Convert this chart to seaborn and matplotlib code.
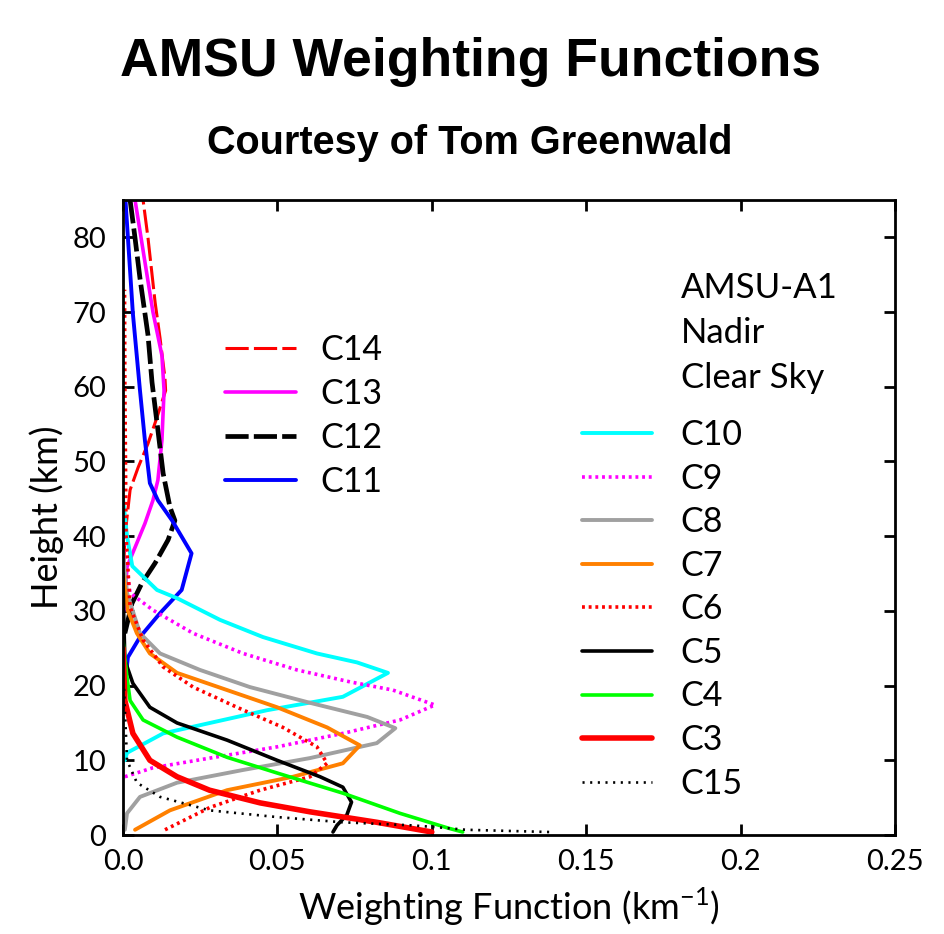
import numpy as np
import pandas as pd
import matplotlib
matplotlib.use("Agg")
import matplotlib.pyplot as plt
import seaborn as sns
from matplotlib.lines import Line2D

# ---------------- data (height km, weighting function km^-1) ----------------
c14_h = [36, 39.9, 42.5, 46.2, 49.2, 52.4, 55.9, 59.5, 61.1, 66.5, 71.3, 79.9, 85]
c14_w = [0.0003, 0.0006, 0.0013, 0.0023, 0.0049, 0.0081, 0.0110, 0.0138, 0.0136, 0.0120, 0.0104, 0.0081, 0.0065]

c13_h = [30, 35.9, 38.5, 41.7, 44.8, 47.5, 52.8, 59.5, 64.2, 70, 76.7, 85]
c13_w = [0.0003, 0.0013, 0.0039, 0.0071, 0.0097, 0.0113, 0.0126, 0.0133, 0.0126, 0.0097, 0.0071, 0.0039]

c12_h = [27, 31, 33.7, 36.4, 39.5, 42.1, 43.9, 48.4, 54.2, 60.6, 66.9, 74.5, 79.9, 85]
c12_w = [0.0006, 0.0029, 0.0061, 0.0104, 0.0146, 0.0168, 0.0152, 0.0130, 0.0113, 0.0094, 0.0081, 0.0055, 0.0039, 0.0023]

c11_h = [20.3, 23.8, 26.5, 29.7, 32.8, 37.7, 42.1, 44.8, 47.1, 52.8, 59.5, 69.8, 79.9, 85]
c11_w = [0.0006, 0.0016, 0.0055, 0.0120, 0.0190, 0.0222, 0.0159, 0.0113, 0.0087, 0.0071, 0.0055, 0.0032, 0.0016, 0.0008]

c10_h = [10, 11, 13.6, 16.7, 18.5, 21.7, 23.1, 24.3, 26.5, 28.8, 31.7, 32.8, 36, 40, 45]
c10_w = [0.0006, 0.0013, 0.0130, 0.0466, 0.0712, 0.0858, 0.0758, 0.0628, 0.0453, 0.0314, 0.0175, 0.0110, 0.0030, 0.0013, 0.0]

c9_h = [7.8, 9.0, 10.3, 11.8, 13.6, 15.4, 17.4, 19.4, 20.5, 22.1, 24.3, 27, 30.1, 32.4, 36, 42]
c9_w = [0.0006, 0.0097, 0.0282, 0.0499, 0.0712, 0.0897, 0.1010, 0.0874, 0.0735, 0.0563, 0.0389, 0.0227, 0.0097, 0.0023, 0.0010, 0.0]

c8_h = [0.7, 2.9, 5.1, 7.0, 8.7, 10.3, 12.3, 14.3, 15.8, 17.7, 19.8, 22.1, 24.3, 27, 32.4, 38]
c8_w = [0.0006, 0.0013, 0.0055, 0.0175, 0.0388, 0.0606, 0.0822, 0.0882, 0.0791, 0.0605, 0.0411, 0.0249, 0.0120, 0.0055, 0.0013, 0.0]

c7_h = [0.7, 3.3, 6.0, 7.8, 9.6, 12, 14.4, 17.1, 19.4, 21.7, 24.3, 27, 30, 35]
c7_w = [0.0039, 0.0152, 0.0337, 0.0551, 0.0712, 0.0767, 0.0661, 0.0499, 0.0337, 0.0175, 0.0087, 0.0045, 0.0016, 0.0]

c6_h = [0.7, 3.7, 6.0, 7.8, 9.6, 11.8, 14.4, 17.1, 19.8, 22.5, 26.1, 30.5, 40, 50, 60, 73]
c6_w = [0.0136, 0.0282, 0.0444, 0.0606, 0.0661, 0.0628, 0.0518, 0.0369, 0.0227, 0.0130, 0.0065, 0.0023, 0.0010, 0.0008, 0.0006, 0.0005]

c5_h = [0.4, 1.3, 2.7, 4.4, 6.4, 7.8, 10, 12.7, 15, 17.1, 20.3, 23.4, 30, 35]
c5_w = [0.0680, 0.0693, 0.0725, 0.0740, 0.0712, 0.0638, 0.0499, 0.0337, 0.0175, 0.0087, 0.0032, 0.0006, 0.0002, 0.0]

c4_h = [0.4, 0.9, 2.9, 5.6, 8.3, 10.4, 13.1, 15.4, 18, 21.1, 26]
c4_w = [0.1100, 0.1055, 0.0897, 0.0712, 0.0499, 0.0337, 0.0175, 0.0065, 0.0023, 0.0013, 0.0]

c3_h = [0.4, 1.7, 3.1, 4.3, 6.0, 7.8, 10, 13.6, 18, 25]
c3_w = [0.1000, 0.0822, 0.0606, 0.0444, 0.0280, 0.0175, 0.0087, 0.0032, 0.0006, 0.0]

c15_h = [0.4, 0.7, 1.1, 1.3, 1.7, 2.4, 3.3, 5.1, 7, 10, 13, 15, 20]
c15_w = [0.1380, 0.1110, 0.1000, 0.0930, 0.0712, 0.0499, 0.0280, 0.0120, 0.0045, 0.0013, 0.0010, 0.0008, 0.0003]

x_ticks = [0.0, 0.05, 0.1, 0.15, 0.2, 0.25]
x_tick_labels = ["0.0", "0.05", "0.1", "0.15", "0.2", "0.25"]
y_ticks = [0, 10, 20, 30, 40, 50, 60, 70, 80]

series = {
    "C14": (c14_h, c14_w), "C13": (c13_h, c13_w), "C12": (c12_h, c12_w), "C11": (c11_h, c11_w),
    "C10": (c10_h, c10_w), "C9": (c9_h, c9_w), "C8": (c8_h, c8_w), "C7": (c7_h, c7_w),
    "C6": (c6_h, c6_w), "C5": (c5_h, c5_w), "C4": (c4_h, c4_w), "C3": (c3_h, c3_w),
    "C15": (c15_h, c15_w),
}

styles = {
    "C14": dict(color="#ff0000", lw=2.2, ls=(0, (7.6, 1.7))),
    "C13": dict(color="#ff00ff", lw=2.6, ls="-"),
    "C12": dict(color="#000000", lw=3.4, ls=(0, (4.9, 1.1))),
    "C11": dict(color="#0000ff", lw=2.8, ls="-"),
    "C10": dict(color="#00ffff", lw=2.8, ls="-"),
    "C9": dict(color="#ff00ff", lw=2.6, ls=(0, (0.8, 1.05))),
    "C8": dict(color="#a0a0a0", lw=2.8, ls="-"),
    "C7": dict(color="#ff8000", lw=2.8, ls="-"),
    "C6": dict(color="#ff0000", lw=2.6, ls=(0, (0.8, 1.05))),
    "C5": dict(color="#000000", lw=2.6, ls="-"),
    "C4": dict(color="#00ff00", lw=2.6, ls="-"),
    "C3": dict(color="#ff0000", lw=4.0, ls="-"),
    "C15": dict(color="#000000", lw=1.9, ls=(0, (0.8, 2.1))),
}

rows = []
for name, (h, w) in series.items():
    for hi, wi in zip(h, w):
        rows.append((name, hi, wi))
df = pd.DataFrame(rows, columns=["channel", "height", "wf"])

sns.set_style("ticks")
plt.rcParams["font.family"] = ["Lato", "DejaVu Sans"]
plt.rcParams["text.color"] = "black"
plt.rcParams["axes.labelcolor"] = "black"
plt.rcParams["xtick.color"] = "black"
plt.rcParams["ytick.color"] = "black"

fig = plt.figure(figsize=(9.44, 9.34), dpi=100)
L, R, B, T = 123 / 944, 895 / 944, 1 - 835 / 934, 1 - 200 / 934
ax = fig.add_axes([L, B, R - L, T - B])

handles = {}
for name in series:
    st = styles[name]
    sub = df[df["channel"] == name]
    sns.lineplot(data=sub, x="wf", y="height", orient="y", estimator=None,
                 sort=True, ax=ax, color=st["color"], linewidth=st["lw"],
                 linestyle=st["ls"], legend=False)
    handles[name] = Line2D([], [], color=st["color"], lw=st["lw"], ls=st["ls"])

ax.set_xlim(0, 0.25)
ax.set_ylim(0, 85)
ax.set_xticks(x_ticks)
ax.set_xticklabels(x_tick_labels)
ax.set_yticks(y_ticks)
ax.tick_params(direction="in", length=8, width=2, top=True, right=True,
               labelsize=21, colors="black")
ax.tick_params(axis="y", pad=12)
ax.tick_params(axis="x", pad=10)
for sp in ax.spines.values():
    sp.set_linewidth(2)
    sp.set_color("black")
ax.set_xlabel("Weighting Function (km$^{\\mathregular{-1}}$)", fontsize=26, labelpad=8)
ax.set_ylabel("Height (km)", fontsize=26, labelpad=6)

# titles
fig.text(0.498, 1 - 62 / 934, "AMSU Weighting Functions", ha="center", va="center",
         fontsize=38.5, fontweight="bold", family="Liberation Sans", color="black")
fig.text(0.498, 1 - 143 / 934, "Courtesy of Tom Greenwald", ha="center", va="center",
         fontsize=28.5, fontweight="bold", family="Liberation Sans", color="black")

# left legend
left_names = ["C14", "C13", "C12", "C11"]
leg1 = ax.legend([handles[n] for n in left_names], left_names, loc="upper left",
                 bbox_to_anchor=(225 / 944, 1 - 334 / 934), bbox_transform=fig.transFigure,
                 frameon=False, fontsize=24.5, handlelength=2.1, handletextpad=0.7,
                 labelspacing=0.35, borderpad=0, borderaxespad=0)
ax.add_artist(leg1)

right_names = ["C10", "C9", "C8", "C7", "C6", "C5", "C4", "C3", "C15"]
leg2 = ax.legend([handles[n] for n in right_names], right_names, loc="upper left",
                 bbox_to_anchor=(582 / 944, 1 - 419 / 934), bbox_transform=fig.transFigure,
                 frameon=False, fontsize=24.5, handlelength=2.05, handletextpad=0.85,
                 labelspacing=0.34, borderpad=0, borderaxespad=0)

fig.text(681 / 944, 1 - 272 / 934, "AMSU-A1\nNadir\nClear Sky", ha="left", va="top",
         fontsize=25, linespacing=1.5)

fig.savefig("out.png", dpi=100)
